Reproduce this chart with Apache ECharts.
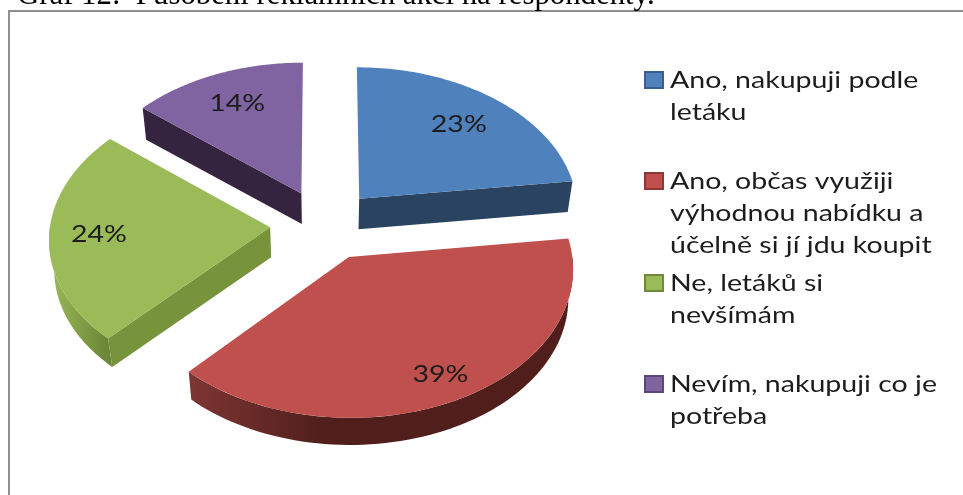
<!DOCTYPE html>
<html><head><meta charset="utf-8">
<style>html,body{margin:0;padding:0;background:#fff}#c{width:963px;height:495px;filter:blur(0.45px)}</style>
<script src="https://cdn.jsdelivr.net/npm/echarts@6/dist/echarts.min.js"></script>
</head><body><div id="c"></div>
<script>
const categories = ['Ano, nakupuji podle\nletáku','Ano, občas využiji\nvýhodnou nabídku a\núčelně si jí jdu koupit','Ne, letáků si\nnevšímám','Nevím, nakupuji co je\npotřeba'];
const values = [23,39,24,14];
const titleText = 'Graf 12:  Působení reklamních akcí na respondenty.';
const topColors = ['#4F81BD','#C0504D','#9BBB59','#8064A2'];
const sideColors = ['#294360','#501F1C','#77933C','#35243F'];
const arcLight = ['#294360','#7E3533','#9CBB5A','#35243F'];
const legendBorder = ['#3A5F8C','#8C3836','#71893F','#5C4776'];
const legendCenters = [80,181,283,384];
const labelRadius = [.73,.84,.775,.74];

const CX=324, CY=225, RX=220, RY=144.5, K=.0715, EXPLODE=.245, DEPTH=30;
const FONT='Lato', TEXT_STRETCH=1.24;
function project(X,Z){const s=1/(1-K*Z);return [CX+RX*X*s, CY+RY*Z*s];}
const total=values.reduce((a,b)=>a+b,0);
function renderSlice(params,api){
  const i=params.dataIndex, v=api.value(0);
  let before=0; for(let j=0;j<i;j++) before+=values[j];
  const a0=before/total*2*Math.PI, a1=(before+v)/total*2*Math.PI, m=(a0+a1)/2;
  const ox=EXPLODE*Math.sin(m), oz=-EXPLODE*Math.cos(m);
  const pt=(a,r)=>project(ox+r*Math.sin(a),oz-r*Math.cos(a));
  const down=p=>[CX+(p[0]-CX)*.981, CY+(p[1]-CY)*.985+DEPTH];
  const apex=pt(0,0);
  const sweep=(from,to,n)=>{const out=[];for(let t=0;t<=n;t++) out.push(pt(from+(to-from)*t/n,1));return out;};
  const arc=sweep(a0,a1,72);
  const kids=[];
  const poly=(points,fill)=>kids.push({type:'polygon',shape:{points},style:{fill}});
  // Only the faces turned towards the viewer are drawn.
  if(Math.sin(a0)<-1e-6){const e=pt(a0,1);poly([apex,e,down(e),down(apex)],sideColors[i]);}
  if(Math.sin(a1)>1e-6){const e=pt(a1,1);poly([apex,e,down(e),down(apex)],sideColors[i]);}
  const from=Math.max(a0,Math.PI/2), to=Math.min(a1,Math.PI*1.5);
  if(to>from){
    const front=sweep(from,to,72);
    const grad=new echarts.graphic.LinearGradient(0,0,1,0,
      i===2?[{offset:0,color:arcLight[i]},{offset:.9,color:'#6C8737'},{offset:1,color:'#6C8737'}]
           :[{offset:0,color:arcLight[i]},{offset:.35,color:sideColors[i]},{offset:1,color:sideColors[i]}]);
    poly(front.concat(front.slice().reverse().map(down)),grad);
  }
  poly([apex].concat(arc),topColors[i]);
  const lp=pt(m,labelRadius[i]);
  kids.push({type:'text',x:lp[0],y:lp[1],scaleX:TEXT_STRETCH,style:{text:v+'%',x:0,y:0,align:'center',verticalAlign:'middle',fill:'#1c1c1c',font:'23px '+FONT}});
  return {type:'group',children:kids};
}
const graphics=[
 {type:'polyline',shape:{points:[[9,495],[9,11],[963,11]]},style:{stroke:'#8E8E8E',lineWidth:2,fill:null},silent:true},
 {type:'text',style:{text:titleText,x:17,y:-20,fill:'#000',font:'30.8px "Liberation Serif"',verticalAlign:'top'}}
];
categories.forEach((c,i)=>{
  const y=legendCenters[i];
  graphics.push({type:'rect',shape:{x:645,y:y-8,width:18,height:16},style:{fill:topColors[i],stroke:legendBorder[i],lineWidth:2}});
  graphics.push({type:'text',x:670,y:y-15,scaleX:TEXT_STRETCH,style:{text:c,x:0,y:0,fill:'#1c1c1c',font:'23px '+FONT,lineHeight:32,verticalAlign:'top'}});
});
const chart=echarts.init(document.getElementById('c'),null,{renderer:'canvas'});
chart.setOption({
  animation:false,
  backgroundColor:'#fff',
  graphic:graphics,
  series:[{type:'custom',coordinateSystem:'none',renderItem:renderSlice,
    data:values.map((v,i)=>({name:categories[i],value:[v]}))}]
});
</script></body></html>
